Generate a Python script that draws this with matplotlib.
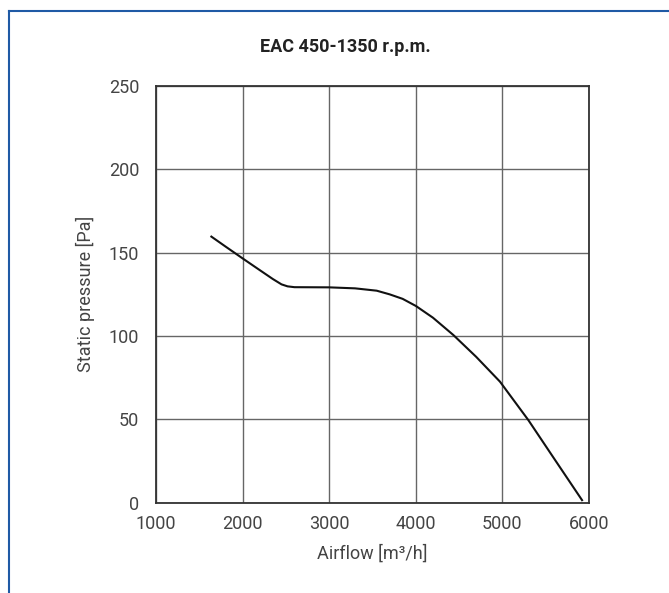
import matplotlib
matplotlib.use("Agg")
import matplotlib.pyplot as plt
from matplotlib.lines import Line2D

airflow = [1630, 1800, 2000, 2200, 2350, 2450, 2520, 2600, 3000, 3300, 3550, 3700, 3850, 4004, 4200, 4436, 4700, 4975, 5302, 5600, 5930]
pressure = [160, 153.8, 146.6, 139.5, 134.2, 131.0, 129.8, 129.3, 129.2, 128.6, 127.2, 125.0, 122.3, 118, 111.0, 100.6, 87.5, 72.6, 49.6, 26.5, 1]

x_ticks = [1000, 2000, 3000, 4000, 5000, 6000]
y_ticks = [0, 50, 100, 150, 200, 250]

title = "EAC 450-1350 r.p.m."
xlabel = "Airflow [m³/h]"
ylabel = "Static pressure [Pa]"

plt.rcParams['font.family'] = ['Roboto', 'DejaVu Sans']

fig = plt.figure(figsize=(6.69, 5.93), dpi=100)
ax = fig.add_axes([156/669, 1 - 502.7/593, (588.7-156)/669, (502.7-86)/593])

ax.plot(airflow, pressure, color='#111111', lw=1.5, solid_capstyle='butt', solid_joinstyle='round')
ax.set_xlim(1000, 6000)
ax.set_ylim(0, 250)
ax.set_xticks(x_ticks)
ax.set_yticks(y_ticks)
ax.grid(True, color='#666666', lw=1.0)
ax.set_axisbelow(True)
for s in ax.spines.values():
    s.set_color('#333333')
    s.set_linewidth(1.3)
txt = '#444444'
ax.tick_params(length=0, labelsize=13, labelcolor=txt)
ax.tick_params(axis='x', pad=9)
ax.tick_params(axis='y', pad=12)
ax.set_xlabel(xlabel, fontsize=13, color=txt, labelpad=8)
ax.set_ylabel(ylabel, fontsize=13, color=txt, labelpad=10)

fig.text(345.5/669, 1 - 47/593, title, ha='center', va='center',
         fontsize=13, fontweight='bold', color='#222222')

blue = '#1f5aa5'
fig.add_artist(Line2D([9/669, 1], [1 - 10.5/593, 1 - 10.5/593], color=blue, lw=1.5, transform=fig.transFigure))
fig.add_artist(Line2D([9/669, 9/669], [1 - 10.5/593, 0], color=blue, lw=1.5, transform=fig.transFigure))

fig.savefig("out.png", dpi=100, facecolor='white')
